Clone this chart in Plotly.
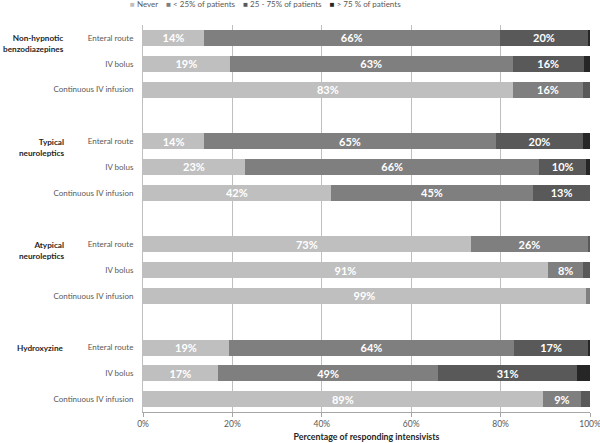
import plotly.graph_objects as go

# categories
groups = ["Non-hypnotic<br>benzodiazepines", "Typical<br>neuroleptics",
          "Atypical<br>neuroleptics", "Hydroxyzine"]
routes = ["Enteral route", "IV bolus", "Continuous IV infusion"]
xticks = [0, 20, 40, 60, 80, 100]

# % of intensivists, rows = group x route (enteral, IV bolus, continuous)
never = [13.6, 19.4, 82.7,
         13.7, 22.8, 42.0,
         73.3, 90.6, 99.1,
         19.2, 16.7, 89.4]
lt25 = [66.2, 63.3, 15.8,
        65.2, 65.9, 45.3,
        26.3, 7.9, 0.9,
        63.8, 49.4, 8.6]
mid = [19.8, 15.9, 1.5,
       19.6, 10.4, 12.7,
       0.4, 1.5, 0.0,
       16.6, 30.9, 2.0]
gt75 = [0.4, 1.4, 0.0,
        1.5, 0.9, 0.0,
        0.0, 0.0, 0.0,
        0.4, 3.0, 0.0]

series = [
    ("Never", never, "#bfbfbf"),
    ("< 25% of patients", lt25, "#7f7f7f"),
    ("25 - 75% of patients", mid, "#595959"),
    ("> 75 % of patients", gt75, "#262626"),
]

# slot positions: 3 bars per group + one empty slot between groups
ypos = [g * 4 + r for g in range(len(groups)) for r in range(len(routes))]
ylabels = [routes[r] for g in range(len(groups)) for r in range(len(routes))]

FONT = "Lato"

fig = go.Figure()
for name, vals, col in series:
    fig.add_trace(go.Bar(
        y=ypos, x=vals, name=name, orientation="h",
        marker=dict(color=col, line=dict(width=0)),
        text=[f"{v:.0f}%" if v >= 5 else "" for v in vals],
        textposition="inside", insidetextanchor="middle",
        textfont=dict(family=FONT, size=11, color="white", weight="bold"),
        constraintext="none",
        hoverinfo="x+name",
        showlegend=False,
    ))

# compact legend row at the top (Excel style small squares)
gap = "&nbsp;" * 4
legend_txt = gap.join(f"<span style='color:{col}'>■</span> {name}"
                      for name, vals, col in series)
fig.add_annotation(
    x=0.275, xref="paper", xanchor="center",
    y=1.053, yref="paper", yanchor="middle",
    text=legend_txt, showarrow=False,
    font=dict(family=FONT, size=8, color="#595959"),
)

# group labels on the left
for g, lab in enumerate(groups):
    fig.add_annotation(
        x=-0.173, xref="paper", xanchor="right",
        y=g * 4 - 0.25, yref="y", yanchor="top",
        text=f"<b>{lab}</b>", showarrow=False, align="right",
        font=dict(family=FONT, size=8.2, color="#262626"),
    )

fig.update_layout(
    width=600, height=443,
    barmode="stack", bargap=0.38,
    paper_bgcolor="white", plot_bgcolor="white",
    margin=dict(l=143, r=10, t=25, b=31),
    font=dict(family=FONT, size=8, color="#595959"),
    showlegend=False,
)

fig.update_xaxes(
    range=[0, 100], tickvals=xticks, ticktext=[f"{t}%" for t in xticks],
    showgrid=True, gridcolor="#bfbfbf", gridwidth=1, zeroline=False,
    showline=True, linecolor="#a6a6a6", linewidth=1,
    ticks="outside", ticklen=4, tickcolor="#a6a6a6",
    tickfont=dict(family=FONT, size=8.5, color="#595959"),
    ticklabeloverflow="allow",
    title=dict(text="<b>Percentage of responding intensivists</b>",
               font=dict(family=FONT, size=8.8, color="#262626"), standoff=5),
    automargin=False, fixedrange=True,
)
fig.update_yaxes(
    range=[14.5, -0.5], tickvals=ypos, ticktext=ylabels,
    showgrid=False, zeroline=False,
    showline=True, linecolor="#bfbfbf", linewidth=1,
    ticks="", ticklabelstandoff=7,
    tickfont=dict(family=FONT, size=8, color="#595959"),
    automargin=False, fixedrange=True,
)

# drop the default 8px page margin so the 600x443 figure fills the window
fig.write_html("out.html", config={"displayModeBar": False},
               post_script="document.body.style.margin='0';")
